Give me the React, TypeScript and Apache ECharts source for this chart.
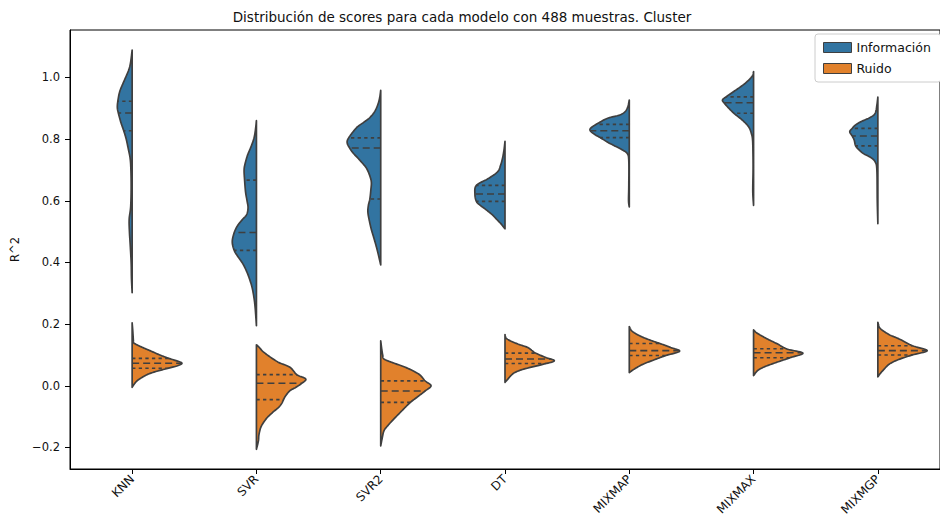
import React, { useEffect, useRef } from "react";
import * as echarts from "echarts";

const models = ["KNN", "SVR", "SVR2", "DT", "MIXMAP", "MIXMAX", "MIXMGP"];
const hueNames = ["Información", "Ruido"];
const yTicks = [-0.2, 0, 0.2, 0.4, 0.6, 0.8, 1.0];

// Density profiles: [R^2 value, relative density]
const knnInfo = [[1.089,0],[1.05,0.03],[1.024,0.07],[0.99,0.16],[0.955,0.25],[0.923,0.29],[0.902,0.3],[0.885,0.28],[0.855,0.23],[0.827,0.17],[0.8,0.12],[0.77,0.08],[0.737,0.04],[0.7,0.025],[0.64,0.02],[0.58,0.03],[0.54,0.06],[0.5,0.055],[0.46,0.04],[0.4,0.02],[0.35,0.014],[0.302,0]];
const svrInfo = [[0.86,0],[0.83,0.02],[0.803,0.05],[0.775,0.11],[0.748,0.18],[0.72,0.23],[0.7,0.25],[0.667,0.24],[0.628,0.22],[0.6,0.19],[0.577,0.17],[0.555,0.2],[0.54,0.28],[0.52,0.38],[0.497,0.45],[0.467,0.49],[0.439,0.45],[0.42,0.38],[0.397,0.28],[0.375,0.21],[0.351,0.15],[0.32,0.09],[0.286,0.05],[0.25,0.024],[0.195,0]];
const svr2Info = [[0.958,0],[0.935,0.02],[0.914,0.054],[0.89,0.12],[0.87,0.22],[0.855,0.34],[0.837,0.49],[0.804,0.65],[0.788,0.68],[0.771,0.63],[0.755,0.56],[0.738,0.46],[0.72,0.36],[0.706,0.29],[0.685,0.23],[0.661,0.19],[0.635,0.2],[0.606,0.22],[0.585,0.25],[0.563,0.26],[0.535,0.23],[0.507,0.19],[0.48,0.14],[0.452,0.09],[0.42,0.04],[0.392,0]];
const dtInfo = [[0.793,0],[0.765,0.02],[0.738,0.05],[0.715,0.09],[0.694,0.15],[0.672,0.34],[0.65,0.58],[0.622,0.61],[0.598,0.58],[0.585,0.5],[0.573,0.4],[0.555,0.26],[0.54,0.17],[0.525,0.08],[0.509,0]];
const mixmapInfo = [[0.927,0],[0.905,0.03],[0.889,0.086],[0.878,0.2],[0.867,0.45],[0.848,0.67],[0.836,0.78],[0.827,0.79],[0.815,0.7],[0.805,0.59],[0.79,0.44],[0.78,0.32],[0.765,0.14],[0.753,0.04],[0.73,0.01],[0.65,0.01],[0.6,0.015],[0.58,0]];
const mixmaxInfo = [[1.019,0],[1.003,0.034],[0.981,0.17],[0.959,0.36],[0.937,0.56],[0.927,0.63],[0.918,0.6],[0.905,0.53],[0.884,0.4],[0.862,0.23],[0.84,0.1],[0.819,0.046],[0.797,0.02],[0.75,0.012],[0.7,0.01],[0.63,0.016],[0.585,0]];
const mixmgpInfo = [[0.936,0],[0.91,0.02],[0.884,0.054],[0.87,0.16],[0.856,0.35],[0.845,0.46],[0.835,0.52],[0.824,0.57],[0.81,0.52],[0.797,0.48],[0.778,0.45],[0.765,0.38],[0.753,0.29],[0.74,0.14],[0.726,0.054],[0.7,0.02],[0.6,0.012],[0.526,0]];

const knnNoise = [[0.204,0],[0.18,0.012],[0.16,0.02],[0.141,0.03],[0.136,0.06],[0.125,0.2],[0.114,0.36],[0.1,0.56],[0.089,0.74],[0.08,0.92],[0.073,1.01],[0.065,0.92],[0.057,0.74],[0.048,0.52],[0.038,0.33],[0.027,0.2],[0.016,0.1],[0.005,0.04],[-0.005,0]];
const svrNoise = [[0.133,0],[0.125,0.054],[0.11,0.14],[0.092,0.29],[0.075,0.46],[0.06,0.68],[0.036,0.82],[0.022,1.0],[0.008,0.92],[-0.005,0.8],[-0.016,0.68],[-0.033,0.59],[-0.045,0.55],[-0.058,0.51],[-0.07,0.45],[-0.085,0.34],[-0.103,0.22],[-0.12,0.14],[-0.136,0.086],[-0.16,0.05],[-0.179,0.04],[-0.206,0]];
const svr2Noise = [[0.146,0],[0.12,0.02],[0.1,0.04],[0.087,0.066],[0.075,0.24],[0.06,0.5],[0.038,0.77],[0.016,0.9],[0,1.02],[-0.017,0.9],[-0.038,0.73],[-0.054,0.6],[-0.081,0.43],[-0.114,0.23],[-0.13,0.14],[-0.146,0.066],[-0.17,0.03],[-0.195,0]];
const dtNoise = [[0.166,0],[0.152,0.04],[0.136,0.25],[0.125,0.45],[0.114,0.55],[0.106,0.62],[0.092,0.82],[0.081,1.0],[0.07,0.78],[0.054,0.38],[0.043,0.2],[0.033,0.12],[0.02,0.05],[0.011,0]];
const mixmapNoise = [[0.192,0],[0.179,0.046],[0.168,0.14],[0.157,0.28],[0.147,0.44],[0.136,0.64],[0.124,0.84],[0.112,1.02],[0.098,0.74],[0.085,0.52],[0.07,0.28],[0.056,0.12],[0.043,0]];
const mixmaxNoise = [[0.181,0],[0.172,0.06],[0.163,0.15],[0.15,0.3],[0.136,0.48],[0.119,0.68],[0.106,1.0],[0.092,0.76],[0.08,0.54],[0.07,0.36],[0.06,0.2],[0.049,0.08],[0.033,0]];
const mixmgpNoise = [[0.206,0],[0.19,0.03],[0.179,0.1],[0.165,0.24],[0.152,0.43],[0.13,0.7],[0.114,1.0],[0.1,0.7],[0.085,0.42],[0.07,0.23],[0.049,0.1],[0.038,0.04],[0.029,0]];

// Quartiles [q1, median, q3]
const infoQuartiles = [[0.827,0.885,0.923],[0.439,0.497,0.667],[0.606,0.771,0.804],[0.598,0.622,0.65],[0.805,0.827,0.848],[0.884,0.918,0.937],[0.778,0.81,0.835]];
const noiseQuartiles = [[0.057,0.073,0.089],[-0.045,0.008,0.036],[-0.054,-0.017,0.016],[0.072,0.087,0.106],[0.098,0.114,0.137],[0.091,0.107,0.12],[0.1,0.114,0.13]];

const infoProfiles = [knnInfo, svrInfo, svr2Info, dtInfo, mixmapInfo, mixmaxInfo, mixmgpInfo];
const noiseProfiles = [knnNoise, svrNoise, svr2Noise, dtNoise, mixmapNoise, mixmaxNoise, mixmgpNoise];

const BLUE = "#3274a1";
const ORANGE = "#e1812c";
const EDGE = "#3f3f3f";
const FONT = "DejaVu Sans";

function makeRender(profiles: number[][][], quartiles: number[][], side: number, color: string) {
  return (params: any, api: any) => {
    const i = params.dataIndex;
    const prof = profiles[i];
    const band = api.size([1, 0])[0];
    const scale = (50 * band) / 126;
    const cx = api.coord([i, 0])[0];
    const pts = prof.map(([v, d]) => [api.coord([i, v])[1], d * scale]);
    const dense: number[][] = [];
    const n = pts.length;
    for (let k = 0; k < n - 1; k++) {
      const p0 = pts[Math.max(k - 1, 0)];
      const p1 = pts[k];
      const p2 = pts[k + 1];
      const p3 = pts[Math.min(k + 2, n - 1)];
      const steps = 10;
      for (let s = 0; s < steps; s++) {
        const t = s / steps;
        const t2 = t * t;
        const t3 = t2 * t;
        const cr = (a: number, b: number, c: number, d: number) =>
          0.5 * (2 * b + (-a + c) * t + (2 * a - 5 * b + 4 * c - d) * t2 + (-a + 3 * b - 3 * c + d) * t3);
        const y = cr(p0[0], p1[0], p2[0], p3[0]);
        const w = Math.max(0, cr(p0[1], p1[1], p2[1], p3[1]));
        dense.push([y, w]);
      }
    }
    dense.push(pts[n - 1]);
    const poly: number[][] = [[cx, dense[0][0]]];
    dense.forEach(([y, w]) => poly.push([cx + side * w, y]));
    poly.push([cx, dense[dense.length - 1][0]]);

    const widthAt = (y: number) => {
      for (let k = 0; k < dense.length - 1; k++) {
        const a = dense[k];
        const b = dense[k + 1];
        if ((y >= a[0] && y <= b[0]) || (y <= a[0] && y >= b[0])) {
          const f = b[0] === a[0] ? 0 : (y - a[0]) / (b[0] - a[0]);
          return a[1] + f * (b[1] - a[1]);
        }
      }
      return 0;
    };

    const children: any[] = [
      {
        type: "polygon",
        shape: { points: poly },
        style: { fill: color, stroke: EDGE, lineWidth: 1.7, lineJoin: "round" },
      },
    ];
    quartiles[i].forEach((q, qi) => {
      const y = api.coord([i, q])[1];
      const w = widthAt(y);
      children.push({
        type: "line",
        shape: { x1: cx, y1: y, x2: cx + side * w, y2: y },
        style: {
          stroke: EDGE,
          lineWidth: 1.6,
          lineDash: qi === 1 ? [7, 4] : [3.3, 3.3],
        },
      });
    });
    return { type: "group", children };
  };
}

export default function App() {
  const ref = useRef<HTMLDivElement>(null);
  useEffect(() => {
    if (!ref.current) return;
    const chart = echarts.init(ref.current, undefined, { renderer: "svg" });
    const fmt = (v: number) => (v < 0 ? "\u2212" : "") + Math.abs(v).toFixed(1);
    chart.setOption({
      animation: false,
      backgroundColor: "#ffffff",
      textStyle: { fontFamily: FONT },
      graphic: [
        {
          type: "text",
          x: 462,
          y: 17,
          style: {
            text: "Distribución de scores para cada modelo con 488 muestras. Cluster",
            textAlign: "center",
            textVerticalAlign: "middle",
            fontSize: 13.5,
            fontFamily: FONT,
            fill: "#111",
          },
        },
      ],
      legend: {
        data: hueNames,
        orient: "vertical",
        left: 815,
        top: 34,
        padding: [7, 10, 7, 8],
        itemGap: 8,
        itemWidth: 28,
        itemHeight: 10,
        icon: "rect",
        backgroundColor: "#fff",
        borderColor: "#cccccc",
        borderWidth: 1,
        borderRadius: 3,
        itemStyle: { borderColor: EDGE, borderWidth: 1 },
        textStyle: { fontFamily: FONT, fontSize: 12.5, color: "#111" },
      },
      grid: {
        left: 70,
        right: -12,
        top: 30,
        bottom: 53,
        show: true,
        borderColor: "#000",
        borderWidth: 1,
        backgroundColor: "transparent",
      },
      xAxis: {
        type: "category",
        data: models,
        boundaryGap: true,
        axisLine: { show: true, onZero: false, lineStyle: { color: "#000", width: 1 } },
        axisTick: { show: true, alignWithLabel: true, length: 5, lineStyle: { color: "#000" } },
        axisLabel: { rotate: 45, fontSize: 12, fontFamily: FONT, color: "#111", margin: 8, interval: 0 },
        splitLine: { show: false },
      },
      yAxis: {
        type: "value",
        min: -0.27,
        max: 1.154,
        name: "R^2",
        nameLocation: "middle",
        nameGap: 46,
        nameTextStyle: { fontFamily: FONT, fontSize: 11.5, color: "#111" },
        axisLine: { show: true, onZero: false, lineStyle: { color: "#000", width: 1 } },
        axisTick: { show: true, length: 5, customValues: yTicks, lineStyle: { color: "#000" } },
        axisLabel: { customValues: yTicks, formatter: fmt, fontSize: 11.5, fontFamily: FONT, color: "#111", margin: 10 },
        splitLine: { show: false },
      },
      series: [
        {
          name: hueNames[0],
          type: "custom",
          itemStyle: { color: BLUE },
          renderItem: makeRender(infoProfiles, infoQuartiles, -1, BLUE),
          data: models.map((_, i) => [i, infoQuartiles[i][1]]),
        },
        {
          name: hueNames[1],
          type: "custom",
          itemStyle: { color: ORANGE },
          renderItem: makeRender(noiseProfiles, noiseQuartiles, 1, ORANGE),
          data: models.map((_, i) => [i, noiseQuartiles[i][1]]),
        },
      ],
    });
    return () => chart.dispose();
  }, []);
  return <div ref={ref} style={{ width: 940, height: 522, position: "absolute", left: 0, top: 0 }} />;
}
